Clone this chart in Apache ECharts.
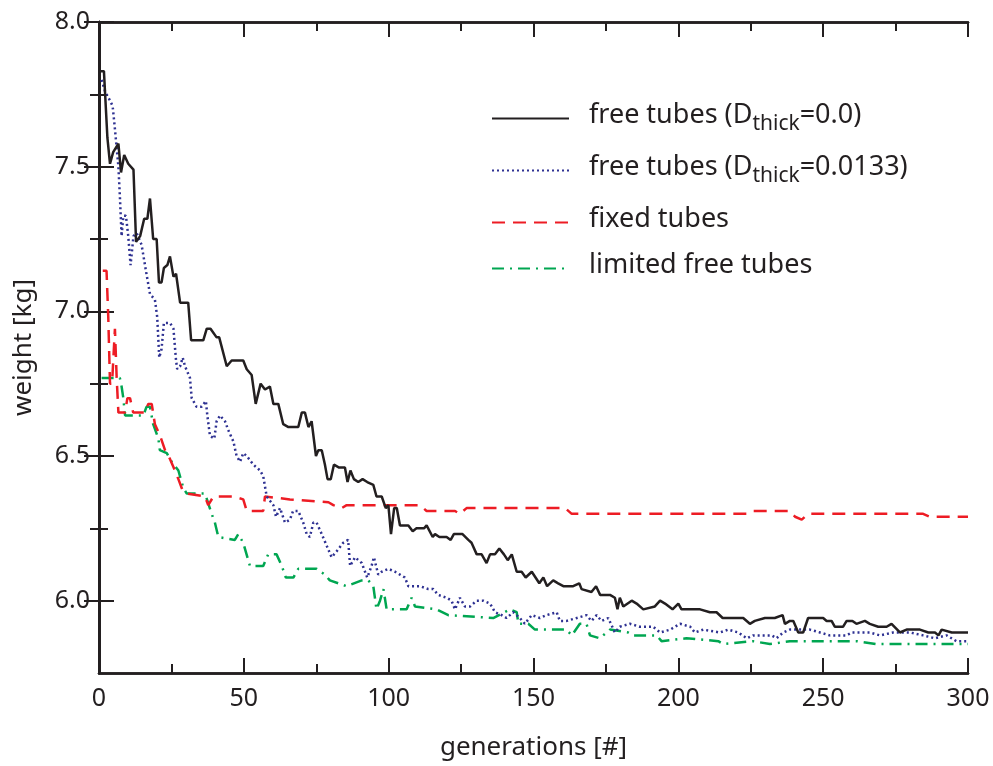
<!DOCTYPE html>
<html>
<head>
<meta charset="utf-8">
<script src="https://cdn.jsdelivr.net/npm/echarts@6/dist/echarts.min.js"></script>
<style>
  html, body { margin: 0; padding: 0; background: #fff; }
  #chart { width: 993px; height: 766px; }
</style>
</head>
<body>
<div id="chart"></div>
<script>
// [generation, weight]
var freeTubes00 = [[0,7.83],[1.7,7.83],[2.9,7.60],[3.8,7.51],[4.9,7.55],[6.7,7.58],[7.6,7.48],[8.7,7.54],[10.1,7.51],[11.9,7.49],[12.8,7.24],[14.2,7.26],[15.6,7.32],[16.7,7.32],[17.6,7.39],[18.7,7.25],[19.9,7.25],[20.7,7.10],[21.6,7.10],[22.4,7.15],[23.6,7.16],[24.5,7.19],[25.7,7.12],[26.6,7.13],[28,7.03],[30.8,7.03],[31.8,6.90],[36,6.90],[37.2,6.94],[38.5,6.94],[40.6,6.91],[41.5,6.91],[44.1,6.81],[45.8,6.83],[49.8,6.83],[51,6.80],[52.7,6.78],[54.1,6.68],[55.8,6.75],[57.3,6.73],[59,6.74],[60.2,6.68],[61.9,6.68],[63.6,6.61],[65.4,6.60],[68.8,6.60],[70,6.65],[71.1,6.65],[72.3,6.60],[73.4,6.62],[74,6.62],[74.9,6.50],[75.7,6.52],[76.9,6.52],[78,6.47],[78.9,6.42],[80,6.42],[81.1,6.47],[82.9,6.46],[84.9,6.46],[85.8,6.41],[86.8,6.45],[88,6.42],[89.5,6.41],[91,6.42],[92.6,6.41],[94.7,6.40],[95.8,6.36],[97.6,6.36],[99,6.32],[99.9,6.33],[100.8,6.23],[101.9,6.32],[102.8,6.32],[103.9,6.26],[106.8,6.26],[108.3,6.24],[109.6,6.25],[112.2,6.25],[113.1,6.26],[115.2,6.22],[116,6.23],[117.5,6.22],[120,6.22],[121.4,6.21],[122.5,6.23],[125.5,6.23],[127.5,6.21],[128.6,6.20],[130.4,6.16],[132.1,6.16],[133.8,6.13],[135,6.16],[136.7,6.16],[138.2,6.18],[139.8,6.16],[141.1,6.14],[142.5,6.16],[144.2,6.10],[145.9,6.10],[147.3,6.08],[149.4,6.10],[152,6.06],[153.4,6.08],[154.7,6.05],[156.8,6.07],[158.5,6.06],[160.3,6.05],[163.7,6.05],[165.8,6.06],[166.6,6.04],[170,6.03],[171.6,6.05],[173,6.02],[176.4,6.02],[178.1,6.01],[179,5.97],[179.8,6.01],[181,5.98],[183.9,6.00],[185.6,5.99],[187.9,5.97],[191.9,5.98],[193.7,6.00],[195.4,5.99],[198,5.97],[200,5.99],[201.1,5.97],[207.5,5.97],[210.9,5.96],[213.2,5.96],[215.3,5.94],[217.2,5.94],[219,5.94],[222.4,5.94],[224.7,5.92],[226.4,5.93],[229.9,5.94],[233.3,5.94],[236,5.95],[236.8,5.92],[238.5,5.93],[239.7,5.93],[241.4,5.89],[243.1,5.89],[244.8,5.94],[247.7,5.94],[250,5.94],[251.2,5.93],[252.9,5.93],[254,5.91],[256.9,5.91],[258.1,5.93],[260.1,5.93],[261.5,5.92],[264.4,5.93],[266.1,5.92],[269,5.91],[271.9,5.91],[273.6,5.92],[276.5,5.89],[278.8,5.90],[281.1,5.90],[283.4,5.90],[286.3,5.89],[288.6,5.89],[289.8,5.88],[290.9,5.90],[294.4,5.89],[295.5,5.89],[300,5.89]];
var freeTubes0133 = [[0.9,7.80],[2.1,7.76],[3.2,7.74],[4.7,7.71],[5.5,7.63],[6.7,7.50],[7.2,7.40],[7.8,7.26],[8.4,7.33],[9.3,7.33],[10.1,7.26],[10.9,7.16],[11.9,7.26],[13,7.27],[14.7,7.23],[16.2,7.14],[17.6,7.06],[19.3,7.04],[20.1,6.98],[20.8,6.84],[21.6,6.87],[22.4,6.96],[24.5,6.96],[25.7,6.94],[26.6,6.83],[27,6.80],[28,6.81],[28.9,6.84],[29.7,6.81],[31.4,6.77],[32,6.70],[33.7,6.67],[35.4,6.67],[36.9,6.69],[37.4,6.64],[38.3,6.57],[39.8,6.56],[40.6,6.62],[41.8,6.64],[43.5,6.62],[44.6,6.59],[46.4,6.55],[47.5,6.50],[48.7,6.48],[49.8,6.51],[51,6.50],[53.3,6.47],[55.6,6.45],[56.7,6.43],[57.9,6.36],[60.2,6.33],[61.1,6.29],[62.5,6.32],[64.2,6.27],[65.9,6.28],[67,6.31],[68.8,6.31],[70.5,6.27],[71.7,6.23],[72.8,6.22],[74,6.27],[75.1,6.27],[76.9,6.23],[78.6,6.19],[80.3,6.15],[82,6.17],[84.3,6.20],[86,6.21],[86.7,6.12],[88.4,6.15],[90.7,6.13],[92.6,6.08],[94.1,6.12],[94.9,6.15],[96.4,6.09],[97.6,6.10],[99.9,6.11],[102.2,6.10],[103.9,6.09],[105.6,6.08],[106.8,6.05],[110.8,6.05],[113.7,6.04],[115.4,6.04],[117.1,6.02],[120,6.01],[121.7,6.00],[122.9,5.97],[124.6,6.01],[126.3,5.98],[128.1,5.98],[130.4,6.00],[132.7,6.00],[135,5.99],[136.7,5.96],[139,5.95],[140.7,5.94],[143,5.96],[145.3,5.94],[147,5.92],[149.4,5.95],[152.2,5.94],[154.5,5.95],[158,5.96],[159.1,5.93],[161.4,5.93],[164.9,5.94],[168.3,5.95],[170,5.93],[171.8,5.95],[173.5,5.93],[175.8,5.94],[178.1,5.89],[179.8,5.91],[183.3,5.92],[186.7,5.91],[191.3,5.91],[193.7,5.89],[197.2,5.90],[200.6,5.92],[204.1,5.91],[205.7,5.89],[208.6,5.90],[214.4,5.89],[217.2,5.90],[220.7,5.89],[223.6,5.87],[225.8,5.88],[232.2,5.88],[233.9,5.87],[236.2,5.89],[238.5,5.90],[243.1,5.90],[245.4,5.90],[248.9,5.89],[252.3,5.88],[258.1,5.88],[259.8,5.89],[266.1,5.89],[269.6,5.88],[274.2,5.89],[280,5.89],[284.5,5.88],[288.6,5.87],[292.6,5.88],[296,5.86],[300,5.86]];
var fixedTubes = [[1.3,7.14],[2.6,7.14],[3.2,6.98],[3.8,6.75],[4.5,6.75],[5.5,6.94],[6.1,6.77],[6.7,6.65],[9,6.65],[9.8,6.70],[10.7,6.70],[11.8,6.65],[15.9,6.65],[17,6.68],[18.2,6.68],[19.3,6.61],[21.1,6.57],[22.8,6.52],[24.5,6.49],[26.2,6.45],[27.4,6.42],[28.9,6.38],[30.3,6.37],[36.6,6.36],[37.7,6.33],[39.5,6.36],[46.4,6.36],[49.8,6.35],[51,6.31],[56.7,6.31],[57.3,6.36],[65.9,6.35],[79.2,6.34],[80.9,6.33],[83.8,6.32],[85.5,6.33],[110.8,6.33],[113.1,6.31],[122.9,6.31],[124.6,6.30],[126.9,6.32],[160.9,6.32],[163.2,6.30],[223.6,6.30],[225.8,6.31],[238.5,6.31],[240.3,6.29],[242.6,6.28],[244.8,6.30],[284.5,6.30],[286.8,6.29],[300,6.29]];
var limitedTubes = [[0.9,6.77],[7.2,6.77],[7.8,6.74],[8.4,6.70],[9,6.64],[15.3,6.64],[16.4,6.67],[17.6,6.67],[18.7,6.61],[20.5,6.56],[21,6.52],[23.4,6.51],[25.1,6.48],[27.4,6.45],[29.1,6.39],[30.3,6.37],[36.6,6.37],[38.9,6.30],[40,6.27],[41.2,6.22],[46.9,6.21],[48.1,6.23],[49.8,6.20],[52.1,6.12],[56.7,6.12],[58.4,6.16],[61.3,6.16],[63.1,6.12],[64.5,6.08],[67.1,6.08],[68.8,6.11],[75.1,6.11],[78,6.09],[79.7,6.07],[85.5,6.05],[90.7,6.07],[93,6.07],[94.7,6.05],[95.8,5.97],[97,6.00],[98.2,6.04],[99.3,5.97],[106.2,5.97],[107.9,6.01],[109.1,5.98],[116.5,5.97],[120.6,5.95],[136.1,5.94],[141.9,5.97],[144.2,5.96],[144.8,5.92],[148.2,5.92],[150.5,5.90],[161.4,5.90],[163.2,5.88],[166,5.92],[168.3,5.92],[169.5,5.88],[172.9,5.87],[176.4,5.90],[182.7,5.89],[184.4,5.88],[192.5,5.88],[194.2,5.86],[202.8,5.87],[213.8,5.86],[215.5,5.85],[225.8,5.86],[231.6,5.85],[238.5,5.86],[261.5,5.86],[268.4,5.85],[300,5.85]];

var seriesNames = ['free tubes (Dthick=0.0)', 'free tubes (Dthick=0.0133)', 'fixed tubes', 'limited free tubes'];
var majorX = [0, 50, 100, 150, 200, 250, 300];
var minorX = [25, 75, 125, 175, 225, 275];
var majorY = [6.0, 6.5, 7.0, 7.5, 8.0];
var minorY = [6.25, 6.75, 7.25, 7.75];

var ink = '#231f20';
var font = 'Noto Sans';

function xAxisOf(position, ticks, len, labels) {
  return {
    type: 'value', min: 0, max: 300, position: position,
    name: labels ? 'generations [#]' : '',
    nameLocation: 'middle', nameGap: 62,
    nameTextStyle: { color: ink, fontSize: 26, fontFamily: font },
    axisLine: { show: true, lineStyle: { color: ink, width: 2.5 } },
    axisTick: { show: true, inside: true, length: len, customValues: ticks, lineStyle: { color: ink, width: 2 } },
    axisLabel: { show: labels, customValues: ticks, margin: 13, color: ink, fontSize: 25, fontFamily: font },
    splitLine: { show: false }
  };
}
function yAxisOf(position, ticks, len, labels) {
  return {
    type: 'value', min: 5.75, max: 8.0, position: position,
    name: labels ? 'weight [kg]' : '',
    nameLocation: 'middle', nameGap: 62,
    nameTextStyle: { color: ink, fontSize: 26, fontFamily: font },
    axisLine: { show: true, lineStyle: { color: ink, width: 2.5 } },
    axisTick: { show: true, inside: true, length: len, customValues: ticks, lineStyle: { color: ink, width: 2 } },
    axisLabel: { show: labels, customValues: ticks, margin: 9, color: ink, fontSize: 25, fontFamily: font,
      formatter: function (v) { return v.toFixed(1); } },
    splitLine: { show: false }
  };
}

function lineSeries(name, data, color, type, width) {
  return {
    name: name, type: 'line', data: data, symbol: 'none', animation: false,
    lineStyle: { color: color, type: type, width: width },
    itemStyle: { color: color }
  };
}

var chart = echarts.init(document.getElementById('chart'));
chart.setOption({
  backgroundColor: '#fff',
  grid: { left: 99, right: 25, top: 22, bottom: 93 },
  xAxis: [
    xAxisOf('bottom', majorX, 15, true),
    xAxisOf('bottom', minorX, 9, false),
    xAxisOf('top', majorX, 15, false),
    xAxisOf('top', minorX, 9, false)
  ],
  yAxis: [
    yAxisOf('left', majorY, 15, true),
    yAxisOf('left', minorY, 9, false),
    yAxisOf('right', majorY, 15, false),
    yAxisOf('right', minorY, 9, false)
  ],
  legend: {
    orient: 'vertical', left: 486, top: 97,
    itemWidth: 77, itemHeight: 14, itemGap: 19,
    data: seriesNames,
    itemStyle: { opacity: 0 },
    formatter: function (name) {
      return '{g|}{n|' + name.replace('Dthick', 'D}{s|thick}{n|') + '}';
    },
    textStyle: {
      color: ink, fontFamily: font,
      rich: {
        g: { width: 15 },
        n: { fontSize: 27, fontFamily: font, color: ink, verticalAlign: 'bottom', padding: [0, 0, 6, 0] },
        s: { fontSize: 21, fontFamily: font, color: ink, verticalAlign: 'bottom' }
      }
    }
  },
  series: [
    lineSeries(seriesNames[3], limitedTubes, '#00a651', [12, 6, 2, 6], 2.5),
    lineSeries(seriesNames[2], fixedTubes, '#ed1c24', [13, 8], 2.5),
    lineSeries(seriesNames[1], freeTubes0133, '#2e3192', [2, 3], 2.5),
    lineSeries(seriesNames[0], freeTubes00, ink, 'solid', 2.5)
  ]
});
</script>
</body>
</html>
